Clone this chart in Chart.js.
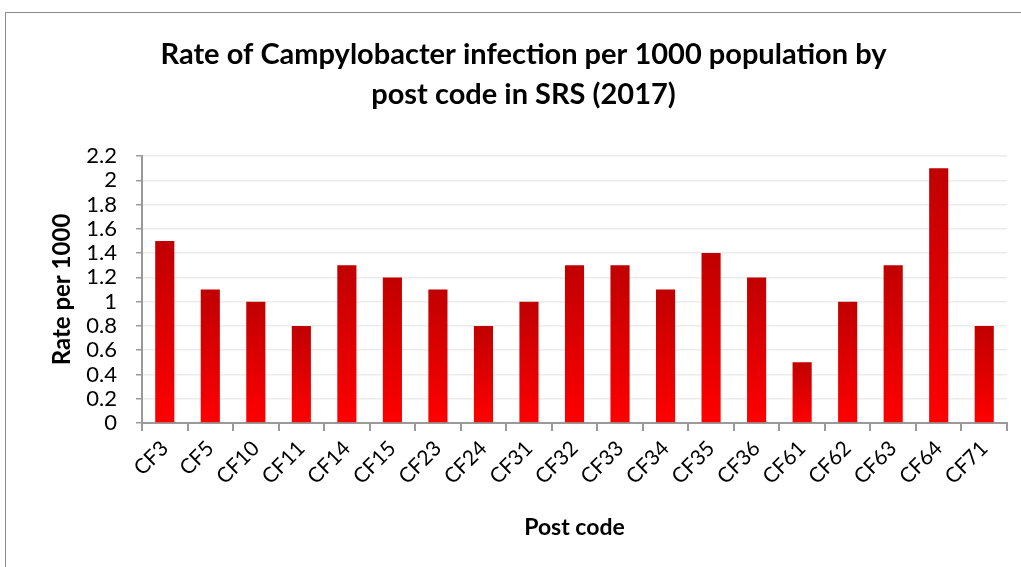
<!DOCTYPE html>
<html>
<head>
<meta charset="utf-8">
<script src="https://cdn.jsdelivr.net/npm/chart.js@4/dist/chart.umd.min.js"></script>
<style>
  html, body { margin: 0; padding: 0; background: #fff; overflow: hidden; }
  #frame { position: absolute; left: 5px; top: 12px; width: 1100px; height: 700px; border: 1px solid #8c8c8c; }
  #wrap { position: absolute; left: 0; top: 0; width: 1021px; height: 567px; }
</style>
</head>
<body>
<div id="frame"></div>
<div id="wrap"><canvas id="chart"></canvas></div>
<script>
const postCodes = ['CF3', 'CF5', 'CF10', 'CF11', 'CF14', 'CF15', 'CF23', 'CF24', 'CF31', 'CF32',
  'CF33', 'CF34', 'CF35', 'CF36', 'CF61', 'CF62', 'CF63', 'CF64', 'CF71'];
const rates = [1.5, 1.1, 1.0, 0.8, 1.3, 1.2, 1.1, 0.8, 1.0, 1.3,
  1.3, 1.1, 1.4, 1.2, 0.5, 1.0, 1.3, 2.1, 0.8];
const yTicks = [0, 0.2, 0.4, 0.6, 0.8, 1, 1.2, 1.4, 1.6, 1.8, 2, 2.2];

const fontFamily = 'Lato, "Open Sans", sans-serif';

// each bar fades from dark red at its top to bright red at the base
function barGradient(context) {
  const chart = context.chart;
  const y = chart.scales.y;
  if (!chart.chartArea || !y || context.raw == null) return '#e00000';
  const top = y.getPixelForValue(context.raw);
  const bottom = y.getPixelForValue(0);
  const g = chart.ctx.createLinearGradient(0, top, 0, bottom);
  g.addColorStop(0, '#c00000');
  g.addColorStop(1, '#ff0000');
  return g;
}

new Chart(document.getElementById('chart'), {
  type: 'bar',
  data: {
    labels: postCodes,
    datasets: [{
      label: 'Rate per 1000',
      data: rates,
      backgroundColor: barGradient,
      categoryPercentage: 1,
      barPercentage: 0.42,
    }],
  },
  options: {
    responsive: true,
    maintainAspectRatio: false,
    animation: false,
    layout: { padding: { left: 40, right: 14, top: 0, bottom: 0 } },
    plugins: {
      legend: { display: false },
      tooltip: { enabled: false },
      title: {
        display: true,
        text: ['Rate of Campylobacter infection per 1000 population by', 'post code in SRS (2017)'],
        color: '#000',
        font: { family: fontFamily, size: 29, weight: 'bold', lineHeight: 1.38 },
        padding: { top: 35, bottom: 41 },
      },
    },
    scales: {
      x: {
        grid: {
          display: true,
          drawOnChartArea: false,
          offset: true,
          tickLength: 8,
          tickColor: '#9a9a9a',
          lineWidth: 2,
        },
        border: { color: '#9a9a9a', width: 2 },
        ticks: {
          color: '#000',
          font: { family: fontFamily, size: 21 },
          minRotation: 45,
          maxRotation: 45,
          padding: 5,
          autoSkip: false,
        },
        title: {
          display: true,
          text: 'Post code',
          color: '#000',
          font: { family: fontFamily, size: 23, weight: 'bold' },
          padding: { top: 0, bottom: 26 },
        },
        afterFit: (scale) => { scale.height = 144; },
      },
      y: {
        min: 0,
        max: 2.2,
        afterBuildTicks: (scale) => { scale.ticks = yTicks.map(v => ({ value: v })); },
        grid: {
          color: '#ececec',
          tickColor: '#9a9a9a',
          tickLength: 6,
          lineWidth: 1.5,
        },
        border: { color: '#9a9a9a', width: 2 },
        ticks: {
          color: '#000',
          font: { family: fontFamily, size: 22 },
          padding: 19,
          autoSkip: false,
          callback: (v) => String(Math.round(v * 10) / 10),
        },
        title: {
          display: true,
          text: 'Rate per 1000',
          color: '#000',
          font: { family: fontFamily, size: 24, weight: 'bold' },
          padding: { top: 8, bottom: 0 },
        },
        afterFit: (scale) => { scale.width = 102; },
      },
    },
  },
});
</script>
</body>
</html>
